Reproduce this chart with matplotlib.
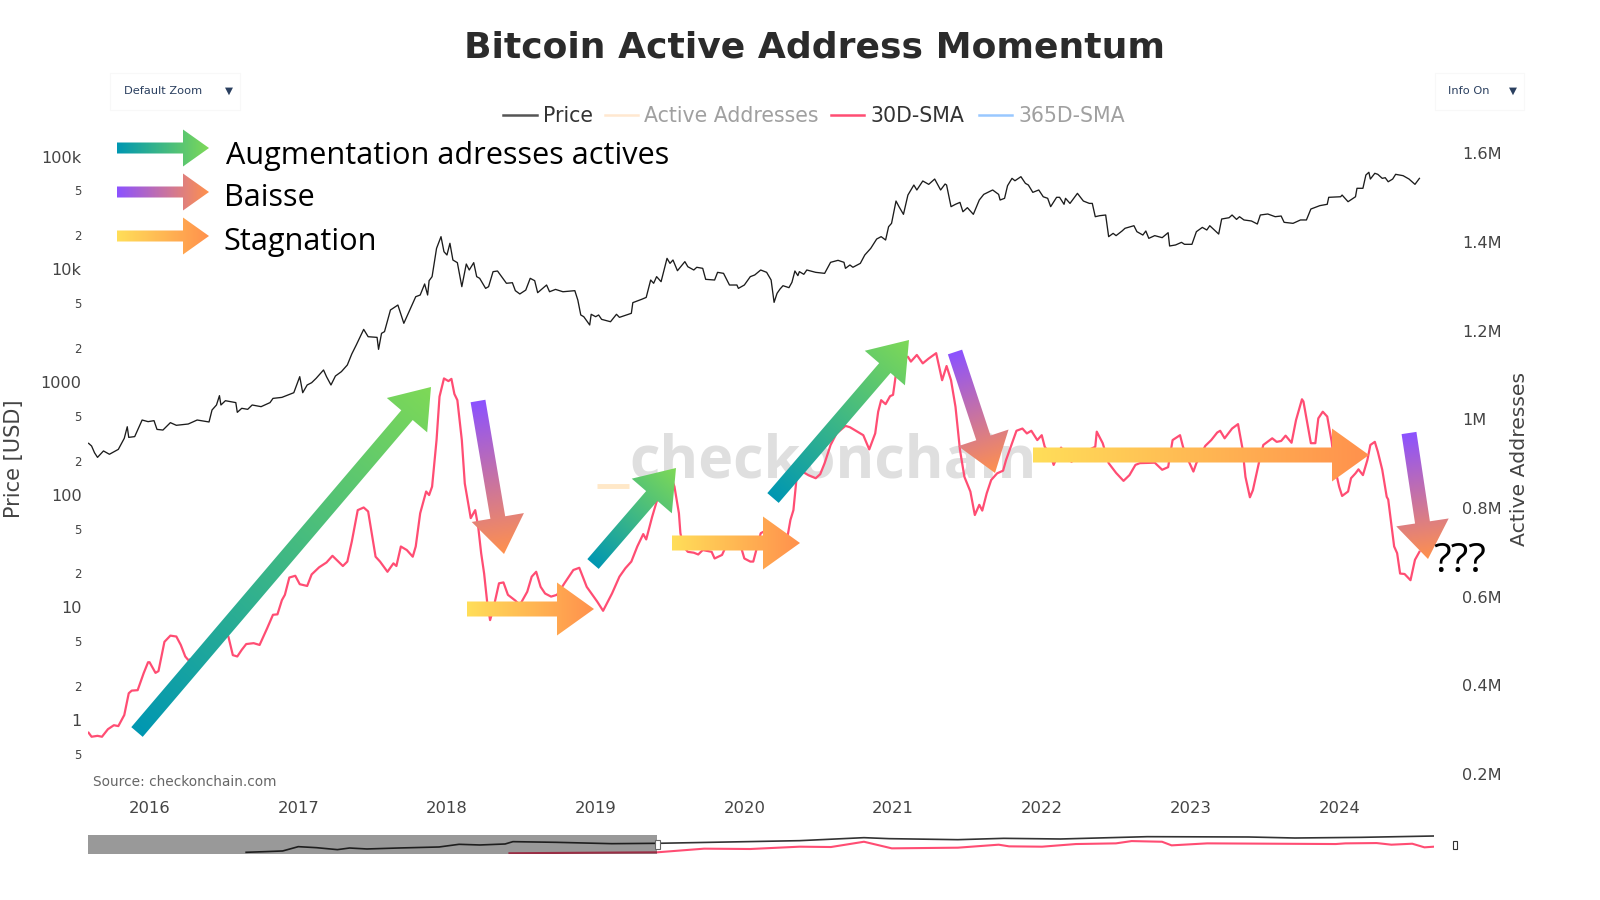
import matplotlib
matplotlib.use("Agg")
import matplotlib.pyplot as plt
import numpy as np
from matplotlib.lines import Line2D
from matplotlib.patches import Polygon, Rectangle

# ===========================================================================
# DONNEES
# ===========================================================================

annees_prix = [
    2015.59, 2015.61, 2015.63, 2015.65, 2015.69, 2015.73, 2015.79, 2015.83, 2015.85, 2015.86,
    2015.90, 2015.92, 2015.95, 2015.99, 2016.03, 2016.05, 2016.09, 2016.14, 2016.18, 2016.26,
    2016.32, 2016.40, 2016.42, 2016.45, 2016.47, 2016.48, 2016.51, 2016.58, 2016.59, 2016.62,
    2016.66, 2016.69, 2016.75, 2016.81, 2016.83, 2016.89, 2016.97, 2017.01, 2017.03, 2017.06,
    2017.09, 2017.12, 2017.17, 2017.19, 2017.22, 2017.25, 2017.29, 2017.33, 2017.36, 2017.39,
    2017.44, 2017.47, 2017.53, 2017.54, 2017.56, 2017.58, 2017.62, 2017.67, 2017.71, 2017.75,
    2017.79, 2017.82, 2017.85, 2017.87, 2017.88, 2017.90, 2017.93, 2017.96, 2017.98, 2018.00,
    2018.02, 2018.04, 2018.07, 2018.10, 2018.13, 2018.15, 2018.18, 2018.20, 2018.22, 2018.26,
    2018.28, 2018.31, 2018.34, 2018.40, 2018.44, 2018.46, 2018.49, 2018.53, 2018.56, 2018.59,
    2018.61, 2018.67, 2018.69, 2018.73, 2018.78, 2018.86, 2018.88, 2018.90, 2018.92, 2018.96,
    2018.97, 2019.00, 2019.02, 2019.04, 2019.10, 2019.14, 2019.16, 2019.24, 2019.25, 2019.31,
    2019.34, 2019.37, 2019.39, 2019.41, 2019.44, 2019.48, 2019.50, 2019.52, 2019.55, 2019.60,
    2019.62, 2019.66, 2019.68, 2019.72, 2019.74, 2019.80, 2019.82, 2019.86, 2019.90, 2019.95,
    2019.96, 2020.00, 2020.04, 2020.07, 2020.11, 2020.15, 2020.18, 2020.20, 2020.22, 2020.24,
    2020.26, 2020.30, 2020.32, 2020.34, 2020.36, 2020.37, 2020.40, 2020.42, 2020.48, 2020.54,
    2020.58, 2020.63, 2020.67, 2020.68, 2020.71, 2020.73, 2020.78, 2020.81, 2020.85, 2020.89,
    2020.92, 2020.95, 2020.97, 2020.99, 2021.02, 2021.04, 2021.07, 2021.10, 2021.14, 2021.16,
    2021.20, 2021.24, 2021.28, 2021.32, 2021.35, 2021.36, 2021.39, 2021.42, 2021.45, 2021.47,
    2021.50, 2021.54, 2021.58, 2021.61, 2021.67, 2021.71, 2021.72, 2021.75, 2021.77, 2021.80,
    2021.82, 2021.86, 2021.89, 2021.91, 2021.94, 2021.98, 2022.01, 2022.04, 2022.06, 2022.10,
    2022.12, 2022.15, 2022.16, 2022.19, 2022.24, 2022.28, 2022.32, 2022.34, 2022.36, 2022.39,
    2022.43, 2022.45, 2022.48, 2022.50, 2022.54, 2022.56, 2022.62, 2022.64, 2022.68, 2022.70,
    2022.72, 2022.76, 2022.81, 2022.85, 2022.86, 2022.90, 2022.94, 2022.96, 2023.01, 2023.04,
    2023.08, 2023.11, 2023.13, 2023.19, 2023.21, 2023.26, 2023.28, 2023.31, 2023.33, 2023.36,
    2023.41, 2023.45, 2023.47, 2023.52, 2023.57, 2023.61, 2023.63, 2023.69, 2023.74, 2023.78,
    2023.81, 2023.87, 2023.92, 2023.93, 2024.01, 2024.02, 2024.06, 2024.11, 2024.12, 2024.16,
    2024.18, 2024.20, 2024.21, 2024.24, 2024.26, 2024.29, 2024.31, 2024.33, 2024.36, 2024.38,
    2024.43, 2024.47, 2024.51, 2024.54,
]
prix = [
    285, 270, 235, 214, 244, 228, 252, 316, 400, 322,
    327, 374, 459, 444, 453, 379, 374, 435, 412, 423,
    459, 441, 563, 624, 755, 624, 681, 655, 537, 583,
    571, 624, 603, 655, 714, 729, 802, 1113, 802, 939,
    984, 1075, 1276, 1113, 939, 1128, 1233, 1413, 1770, 2124,
    2925, 2518, 2484, 1945, 2698, 2793, 4346, 4809, 3312, 4346,
    5702, 5902, 7396, 5902, 7910, 8590, 15310, 19450, 14300, 13370,
    16980, 12070, 11430, 7000, 11120, 9840, 11430, 8590, 8300, 6760,
    7000, 9510, 9640, 7500, 7590, 6450, 6030, 6530, 8300, 7910,
    6190, 7240, 6310, 6620, 6310, 6450, 5330, 3925, 3790, 3200,
    3980, 3790, 3925, 3590, 3420, 3980, 3740, 4060, 5050, 5410,
    5620, 8020, 7500, 8590, 7750, 12480, 11270, 12070, 9700, 11670,
    10520, 9840, 10400, 10180, 8130, 8020, 9380, 9190, 7240, 7240,
    6760, 7240, 8590, 8890, 9840, 9380, 8020, 5080, 6110, 6670,
    7140, 6860, 7650, 9640, 8770, 9510, 9010, 9840, 9380, 9190,
    11510, 11990, 11510, 10180, 10900, 10400, 11270, 13370, 15310, 18530,
    19450, 18160, 23820, 25530, 40270, 35890, 30690, 45500, 55850, 50470,
    60640, 56620, 63100, 50470, 57020, 55850, 35890, 37670, 39170, 32360,
    35160, 30690, 41110, 46130, 50470, 46130, 41110, 42560, 55080, 64000,
    60950, 66220, 57810, 55850, 48080, 50470, 43950, 42560, 35890, 43450,
    43450, 37670, 42560, 38370, 47100, 40270, 38370, 38370, 29240, 29850,
    30270, 19450, 20800, 19860, 21830, 23070, 24320, 21530, 20100, 21830,
    18790, 19860, 19050, 21090, 16070, 16410, 17310, 16630, 16630, 21530,
    23500, 22280, 24320, 20510, 27890, 28640, 30270, 27670, 29240, 27350,
    26790, 25180, 30270, 30900, 29240, 29650, 26060, 25530, 27350, 27350,
    34200, 36640, 37670, 43450, 43950, 45500, 39720, 43950, 52240, 52240,
    68550, 72440, 63100, 70960, 69500, 64000, 64860, 59700, 63100, 69500,
    67610, 63100, 56620, 64000,
]

annees_aa = [
    2015.59, 2015.61, 2015.65, 2015.68, 2015.72, 2015.76, 2015.79, 2015.83, 2015.86, 2015.88,
    2015.92, 2015.96, 2015.99, 2016.00, 2016.04, 2016.06, 2016.10, 2016.14, 2016.18, 2016.21,
    2016.24, 2016.26, 2016.40, 2016.50, 2016.53, 2016.56, 2016.59, 2016.62, 2016.65, 2016.70,
    2016.74, 2016.79, 2016.83, 2016.86, 2016.89, 2016.91, 2016.94, 2016.98, 2017.01, 2017.06,
    2017.09, 2017.14, 2017.19, 2017.23, 2017.27, 2017.30, 2017.33, 2017.36, 2017.40, 2017.44,
    2017.47, 2017.52, 2017.55, 2017.60, 2017.64, 2017.66, 2017.69, 2017.73, 2017.77, 2017.79,
    2017.82, 2017.86, 2017.88, 2017.90, 2017.93, 2017.95, 2017.98, 2018.01, 2018.03, 2018.05,
    2018.07, 2018.10, 2018.12, 2018.16, 2018.19, 2018.21, 2018.23, 2018.25, 2018.27, 2018.29,
    2018.31, 2018.35, 2018.38, 2018.41, 2018.46, 2018.49, 2018.54, 2018.57, 2018.60, 2018.63,
    2018.66, 2018.70, 2018.74, 2018.79, 2018.85, 2018.89, 2018.94, 2019.01, 2019.05, 2019.11,
    2019.16, 2019.20, 2019.24, 2019.28, 2019.32, 2019.34, 2019.38, 2019.41, 2019.47, 2019.51,
    2019.53, 2019.56, 2019.57, 2019.59, 2019.62, 2019.66, 2019.69, 2019.72, 2019.78, 2019.80,
    2019.85, 2019.87, 2019.93, 2019.98, 2020.00, 2020.04, 2020.06, 2020.11, 2020.15, 2020.22,
    2020.29, 2020.31, 2020.33, 2020.35, 2020.39, 2020.43, 2020.48, 2020.51, 2020.54, 2020.58,
    2020.62, 2020.68, 2020.71, 2020.76, 2020.80, 2020.84, 2020.88, 2020.90, 2020.92, 2020.95,
    2020.98, 2021.00, 2021.02, 2021.06, 2021.10, 2021.12, 2021.16, 2021.20, 2021.24, 2021.29,
    2021.33, 2021.36, 2021.39, 2021.42, 2021.45, 2021.48, 2021.52, 2021.55, 2021.58, 2021.60,
    2021.63, 2021.66, 2021.70, 2021.74, 2021.76, 2021.80, 2021.83, 2021.87, 2021.90, 2021.93,
    2021.97, 2022.00, 2022.02, 2022.06, 2022.08, 2022.13, 2022.20, 2022.27, 2022.36, 2022.37,
    2022.41, 2022.45, 2022.50, 2022.55, 2022.59, 2022.63, 2022.66, 2022.76, 2022.81, 2022.85,
    2022.88, 2022.93, 2022.95, 2022.99, 2023.02, 2023.04, 2023.10, 2023.14, 2023.18, 2023.20,
    2023.23, 2023.28, 2023.32, 2023.35, 2023.37, 2023.40, 2023.42, 2023.46, 2023.49, 2023.55,
    2023.58, 2023.61, 2023.64, 2023.68, 2023.71, 2023.75, 2023.76, 2023.79, 2023.81, 2023.84,
    2023.86, 2023.89, 2023.92, 2023.95, 2023.97, 2024.00, 2024.02, 2024.06, 2024.08, 2024.11,
    2024.13, 2024.16, 2024.19, 2024.21, 2024.24, 2024.26, 2024.29, 2024.32, 2024.33, 2024.37,
    2024.39, 2024.41, 2024.44, 2024.48, 2024.51, 2024.54,
]
adresses = [
    0.293, 0.284, 0.286, 0.284, 0.301, 0.310, 0.308, 0.333, 0.382, 0.388,
    0.389, 0.427, 0.452, 0.452, 0.428, 0.432, 0.498, 0.512, 0.510, 0.491,
    0.465, 0.457, 0.472, 0.525, 0.510, 0.468, 0.465, 0.480, 0.493, 0.495,
    0.491, 0.528, 0.559, 0.560, 0.592, 0.604, 0.643, 0.647, 0.628, 0.624,
    0.650, 0.666, 0.677, 0.692, 0.679, 0.669, 0.679, 0.724, 0.795, 0.801,
    0.792, 0.690, 0.679, 0.656, 0.675, 0.669, 0.713, 0.705, 0.690, 0.713,
    0.788, 0.837, 0.829, 0.848, 0.953, 1.051, 1.092, 1.086, 1.091, 1.057,
    1.043, 0.953, 0.855, 0.777, 0.795, 0.758, 0.698, 0.652, 0.589, 0.547,
    0.570, 0.630, 0.632, 0.604, 0.591, 0.581, 0.611, 0.645, 0.656, 0.622,
    0.607, 0.600, 0.604, 0.630, 0.660, 0.665, 0.622, 0.589, 0.568, 0.607,
    0.645, 0.664, 0.679, 0.713, 0.741, 0.729, 0.780, 0.814, 0.855, 0.867,
    0.848, 0.788, 0.743, 0.713, 0.701, 0.699, 0.695, 0.705, 0.701, 0.686,
    0.694, 0.709, 0.713, 0.709, 0.686, 0.679, 0.679, 0.743, 0.750, 0.735,
    0.735, 0.773, 0.795, 0.863, 0.882, 0.874, 0.867, 0.876, 0.901, 0.942,
    0.968, 0.985, 0.982, 0.972, 0.964, 0.932, 0.968, 1.017, 1.043, 1.034,
    1.052, 1.055, 1.103, 1.134, 1.141, 1.130, 1.145, 1.126, 1.137, 1.149,
    1.088, 1.120, 1.088, 1.028, 0.931, 0.870, 0.837, 0.784, 0.807, 0.794,
    0.833, 0.863, 0.878, 0.884, 0.908, 0.946, 0.974, 0.979, 0.968, 0.974,
    0.953, 0.964, 0.938, 0.919, 0.897, 0.936, 0.904, 0.923, 0.938, 0.972,
    0.946, 0.901, 0.879, 0.861, 0.874, 0.897, 0.901, 0.902, 0.886, 0.892,
    0.953, 0.964, 0.938, 0.904, 0.882, 0.901, 0.940, 0.953, 0.970, 0.974,
    0.957, 0.979, 0.989, 0.934, 0.870, 0.824, 0.840, 0.901, 0.942, 0.957,
    0.949, 0.951, 0.963, 0.947, 0.998, 1.045, 1.040, 0.983, 0.946, 0.946,
    1.002, 1.017, 1.006, 0.949, 0.893, 0.848, 0.827, 0.837, 0.867, 0.878,
    0.887, 0.874, 0.908, 0.942, 0.949, 0.927, 0.886, 0.825, 0.819, 0.713,
    0.698, 0.652, 0.651, 0.637, 0.683, 0.701,
]

# Barre de zoom : historique complet depuis 2009
mini_annees_prix = [
    2010.87, 2011.09, 2011.29, 2011.47, 2011.68, 2011.92, 2012.06, 2012.26, 2012.62, 2013.09,
    2013.32, 2013.56, 2013.85, 2013.94, 2014.44, 2015.08, 2015.60, 2017.24, 2017.98, 2018.27,
    2019.06, 2019.59, 2020.24, 2021.24, 2022.41, 2022.94, 2023.70, 2024.54,
]
mini_prix = [
    0.5, 0.8, 1.3, 29, 14, 3.4, 11, 5.5, 11, 23,
    158, 98, 200, 1070, 660, 250, 324, 2190, 19000, 9300,
    4470, 11700, 7300, 38900, 30900, 14900, 24000, 63100,
]
mini_annees_aa = [
    2013.90, 2015.60, 2016.14, 2016.67, 2017.24, 2017.60, 2017.98, 2018.30, 2019.06, 2019.53,
    2019.65, 2020.03, 2020.42, 2020.88, 2021.06, 2021.41, 2021.52, 2021.93, 2023.41, 2023.52,
    2023.88, 2024.05, 2024.29, 2024.43, 2024.54,
]
mini_adresses = [
    0.22, 0.29, 0.566, 0.54, 0.716, 0.69, 1.09, 0.59, 0.64, 0.867,
    0.741, 0.716, 0.916, 0.967, 1.14, 1.09, 0.816, 0.967, 0.916, 0.967,
    0.99, 0.867, 0.94, 0.666, 0.716,
]

graduations_prix = [0.5, 1, 2, 5, 10, 20, 50, 100, 200, 500, 1000, 2000, 5000,
                    10000, 20000, 50000, 100000]
etiquettes_prix = ["5", "1", "2", "5", "10", "2", "5", "100", "2", "5", "1000", "2", "5",
                   "10k", "2", "5", "100k"]
graduations_aa = [0.2, 0.4, 0.6, 0.8, 1.0, 1.2, 1.4, 1.6]
etiquettes_aa = ["0.2M", "0.4M", "0.6M", "0.8M", "1M", "1.2M", "1.4M", "1.6M"]
annees_axe = [2016, 2017, 2018, 2019, 2020, 2021, 2022, 2023, 2024]

# Flèches : départ, pointe (en pixels de l'image), couleurs du dégradé
VERT = ("#0097b2", "#7ed957")
VIOLET = ("#8c52ff", "#ff914d")
JAUNE = ("#ffde59", "#ff914d")
fleches = [
    (137, 732, 431, 387, VERT),
    (478, 401, 504, 554, VIOLET),
    (467, 609, 594, 609, JAUNE),
    (593, 564, 676, 468, VERT),
    (672, 543, 800, 543, JAUNE),
    (773, 498, 909, 340, VERT),
    (955, 352, 995, 473, VIOLET),
    (1033, 455, 1369, 455, JAUNE),
    (1409, 433, 1428, 559, VIOLET),
]
legende_fleches = [
    (117, 148, 209, 148, VERT, "Augmentation adresses actives", 226, 164),
    (117, 192, 209, 192, VIOLET, "Baisse", 224, 206),
    (117, 236, 209, 236, JAUNE, "Stagnation", 223, 250),
]


def _fleche(ax, x0, y0, x1, y1, couleurs, largeur=15, tete_l=53, tete_h=37):
    """Dessine une flèche à dégradé : image découpée par un polygone."""
    d = np.array([x1 - x0, y1 - y0], dtype=float)
    longueur = np.hypot(*d)
    u = d / longueur
    n = np.array([-u[1], u[0]])
    p0 = np.array([x0, y0], dtype=float)
    base = p0 + u * (longueur - tete_h)
    pts = [p0 + n * largeur / 2, base + n * largeur / 2, base + n * tete_l / 2,
           np.array([x1, y1], dtype=float), base - n * tete_l / 2,
           base - n * largeur / 2, p0 - n * largeur / 2]
    pts = np.array(pts)

    xa, ya = np.floor(pts.min(axis=0))
    xb, yb = np.ceil(pts.max(axis=0))
    xs, ys = np.meshgrid(np.arange(xa, xb + 1), np.arange(ya, yb + 1))
    t = np.clip(((xs - x0) * u[0] + (ys - y0) * u[1]) / longueur, 0, 1)
    c0 = np.array(matplotlib.colors.to_rgb(couleurs[0]))
    c1 = np.array(matplotlib.colors.to_rgb(couleurs[1]))
    rgb = c0 + (c1 - c0) * t[..., None]

    im = ax.imshow(rgb, extent=(xa, xb, yb, ya), aspect="auto", zorder=5,
                   interpolation="bilinear")
    poly = Polygon(pts, closed=True, transform=ax.transData, facecolor="none", edgecolor="none")
    ax.add_patch(poly)
    im.set_clip_path(poly)


# ===========================================================================
# FIGURE
# ===========================================================================

LARG, HAUT = 1600, 900
fig = plt.figure(figsize=(16, 9), dpi=100)


def _zone(x0, y0, x1, y1):
    """Position d'axes à partir de pixels (origine en haut à gauche)."""
    return [x0 / LARG, 1 - y1 / HAUT, (x1 - x0) / LARG, (y1 - y0) / HAUT]


# --- Graphique principal ---
ax_prix = fig.add_axes(_zone(88, 135, 1434, 775))
ax_prix.patch.set_visible(False)
ax_prix.plot(annees_prix, prix, color="#1c1c1c", linewidth=0.95)
ax_prix.set_yscale("log")
ax_prix.set_xlim(2015.586, 2024.638)
ax_prix.set_ylim(0.325, 155200)
ax_prix.set_xticks(annees_axe)
ax_prix.set_xticklabels([str(a) for a in annees_axe], fontsize=11.8, color="#444444")
ax_prix.set_yticks(graduations_prix)
ax_prix.set_yticklabels(etiquettes_prix, color="#444444")
ax_prix.minorticks_off()
for lab, txt in zip(ax_prix.get_yticklabels(), etiquettes_prix):
    lab.set_fontsize(8.5 if txt in ("2", "5") else 11.6)
ax_prix.tick_params(axis="x", length=0, pad=19)
ax_prix.tick_params(axis="y", length=0, pad=4.6)
ax_prix.set_ylabel("Price [USD]", fontsize=15, color="#444444")
ax_prix.yaxis.set_label_coords((24 - 88) / 1346, 0.494)

ax_aa = ax_prix.twinx()
ax_aa.patch.set_visible(False)
ax_aa.plot(annees_aa, adresses, color="#ff4d73", linewidth=1.6)
ax_aa.set_ylim(0.1977, 1.641)
ax_aa.set_yticks(graduations_aa)
ax_aa.set_yticklabels(etiquettes_aa, fontsize=11.6, color="#444444")
ax_aa.tick_params(axis="y", length=0, pad=20)
ax_aa.set_ylabel("Active Addresses", fontsize=14.7, color="#444444")
ax_aa.yaxis.set_label_coords((1510 - 88) / 1346, 0.494)
for axe in (ax_prix, ax_aa):
    for spine in axe.spines.values():
        spine.set_visible(False)

# --- Barre de zoom ---
ax_mini = fig.add_axes(_zone(88, 835, 1434, 853.5))
ax_mini.plot(mini_annees_prix, mini_prix, color="#333333", linewidth=1.2)
ax_mini.set_yscale("log")
ax_mini.set_xlim(2009.05, 2024.54)
ax_mini.set_ylim(0.21, 130000)
ax_mini.axis("off")
ax_mini2 = ax_mini.twinx()
ax_mini2.plot(mini_annees_aa, mini_adresses, color="#ff4d73", linewidth=1.5)
ax_mini2.set_ylim(0.2, 1.6)
ax_mini2.axis("off")
ax_mini2.axvspan(2009.05, 2015.6, color="black", alpha=0.4, linewidth=0, zorder=3)

# --- Calque en pixels pour le texte et les flèches ---
ov = fig.add_axes([0, 0, 1, 1], zorder=10)
ov.patch.set_visible(False)
ov.axis("off")

fig.text(833 / LARG, 1 - 478 / HAUT, "checkonchain", fontsize=42.6, fontweight="bold",
         family="Open Sans", color="#dfdfdf", ha="center", va="baseline", zorder=-1)

ov.text(815, 47, "Bitcoin Active Address Momentum", fontsize=26, fontweight="bold",
        color="#2b2b2b", ha="center", va="center")
ov.text(93.4, 782, "Source: checkonchain.com", fontsize=9.9, color="#666666", va="center")

# Légende du graphique
for x0, x1, coul, txt, xt, coul_t in [
    (503, 537, "#555555", "Price", 543, "#333333"),
    (605, 638, "#ffe8d0", "Active Addresses", 644, "#a0a0a0"),
    (831, 864, "#ff4d73", "30D-SMA", 870, "#333333"),
    (979, 1012, "#99c8ff", "365D-SMA", 1018, "#a0a0a0"),
]:
    ov.add_line(Line2D([x0, x1], [114.5, 114.5], color=coul, linewidth=1.8))
    ov.text(xt, 116, txt, fontsize=14.8, color=coul_t, va="center")

# Boutons
for x0, x1, txt, xt, xf in [(110, 240, "Default Zoom", 124, 229), (1435, 1524, "Info On", 1448, 1513)]:
    ov.add_patch(Rectangle((x0, 73), x1 - x0, 37, facecolor="white", edgecolor="#f8f8f8", linewidth=0.8))
    ov.text(xt, 91, txt, fontsize=8.2, color="#2a3f5f", va="center")
    ov.text(xf, 91, "▼", fontsize=7.5, color="#2a3f5f", ha="center", va="center")

# Poignées de la barre de zoom
ov.add_patch(Rectangle((655, 840), 4.5, 9, facecolor="white", edgecolor="#666666", linewidth=0.8, zorder=6))
ov.add_patch(Rectangle((1453, 841), 3.5, 8, facecolor="white", edgecolor="#333333", linewidth=0.8, zorder=6))

# Reste de la série masquée
ov.add_line(Line2D([597, 629], [485.5, 485.5], color="#ffe8c8", linewidth=3.5, solid_capstyle="butt"))

for x0, y0, x1, y1, coul in fleches:
    _fleche(ov, x0, y0, x1, y1, coul)
for x0, y0, x1, y1, coul, txt, xt, yt in legende_fleches:
    _fleche(ov, x0, y0, x1, y1, coul, largeur=11, tete_l=37, tete_h=26)
    ov.text(xt, yt, txt, fontsize=22.1, family="Open Sans", color="black", va="baseline")

ov.text(1433, 572, "???", fontsize=29.5, family="Open Sans", color="black", va="baseline", zorder=7)

ov.set_xlim(0, LARG)
ov.set_ylim(HAUT, 0)

fig.savefig("out.png", dpi=100)
